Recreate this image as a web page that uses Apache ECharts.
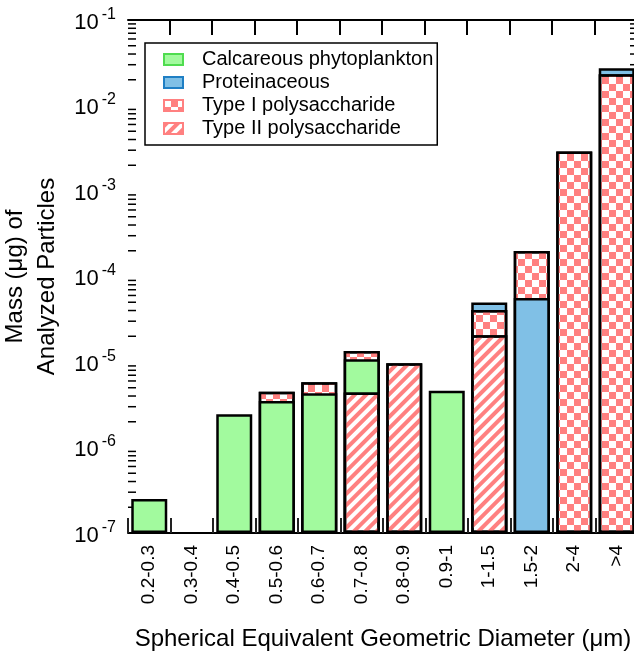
<!DOCTYPE html>
<html>
<head>
<meta charset="utf-8">
<script src="https://cdn.jsdelivr.net/npm/echarts@6/dist/echarts.min.js"></script>
<style>
  html, body { margin: 0; padding: 0; background: #fff; }
  #chart { width: 634px; height: 653px; }
</style>
</head>
<body>
<div id="chart"></div>
<script>
// size bins (um)
const categories = ['0.2-0.3', '0.3-0.4', '0.4-0.5', '0.5-0.6', '0.6-0.7', '0.7-0.8',
  '0.8-0.9', '0.9-1', '1-1.5', '1.5-2', '2-4', '>4'];

// mass (ug) of each particle class per bin
const calcareous    = [2.5e-7, 0, 2.45e-6, 3.5e-6, 4.3e-6, 6.4e-6, 0, 4.6e-6, 0, 0, 0, 0];
const proteinaceous = [0, 0, 0, 0, 0, 0, 0, 0, 9.0e-6, 5.6e-5, 0, 4.0e-3];
const typeI         = [0, 0, 0, 1.0e-6, 1.5e-6, 2.65e-6, 0, 0, 2.0e-5, 1.43e-4, 2.9e-3, 2.32e-2];
const typeII        = [0, 0, 0, 0, 0, 4.4e-6, 9.7e-6, 0, 2.05e-5, 0, 0, 0];

// stacking order bottom -> top; 1.5-2 has proteinaceous under type I
const defaultOrder = ['II', 'C', 'I', 'P'];
const proteinBelow = ['1.5-2'];

const FONT = 'Liberation Sans, Arial, sans-serif';
const PINK = '#ff8080';

const kinds = {
  C: {
    name: 'Calcareous phytoplankton', values: calcareous,
    style: { color: '#a2fa9e', borderColor: '#000', borderWidth: 2.5 },
    legendBorder: '#4fdc4f'
  },
  P: {
    name: 'Proteinaceous', values: proteinaceous,
    style: { color: '#80c0e6', borderColor: '#000', borderWidth: 2.5 },
    legendBorder: '#1f7fc4'
  },
  I: {
    name: 'Type I polysaccharide', values: typeI,
    style: {
      color: '#fff', borderColor: '#000', borderWidth: 2.5,
      decal: { symbol: 'rect', symbolSize: 1, color: PINK,
        dashArrayX: [[7, 7], [0, 7, 7, 0]], dashArrayY: [7, 0] }
    },
    legendBorder: PINK
  },
  II: {
    name: 'Type II polysaccharide', values: typeII,
    style: {
      color: '#fff', borderColor: '#000', borderWidth: 2.5,
      decal: { symbol: 'rect', symbolSize: 1, color: PINK,
        dashArrayX: [1, 0], dashArrayY: [3.4, 3.4], rotation: -Math.PI / 4 }
    },
    legendBorder: PINK
  }
};

// build layers of cumulative tops, bottom layer first
const layers = [[], [], []];
categories.forEach(function (cat, i) {
  const order = proteinBelow.indexOf(cat) >= 0 ? ['II', 'C', 'P', 'I'] : defaultOrder;
  let top = 0, k = 0;
  order.forEach(function (key) {
    const v = kinds[key].values[i];
    if (v > 0) {
      top += v;
      layers[k][i] = { value: top, itemStyle: kinds[key].style };
      k++;
    }
  });
  for (; k < 3; k++) layers[k][i] = '-';
});

// minor ticks of the log axis (2..9 per decade)
const minorTicks = [];
for (let e = -7; e < -1; e++) {
  for (let m = 2; m <= 9; m++) {
    minorTicks.push([0, m * Math.pow(10, e)]);
  }
}

const series = [];
// minor ticks on left/right frame, plus ticks on the top frame at category boundaries
series.push({
  type: 'custom',
  silent: true,
  data: minorTicks,
  renderItem: function (params, api) {
    const y = api.coord([0, api.value(1)])[1];
    const cs = params.coordSys;
    const children = [
      { type: 'line', shape: { x1: cs.x, y1: y, x2: cs.x + 8, y2: y }, style: { stroke: '#000', lineWidth: 1.5 } },
      { type: 'line', shape: { x1: cs.x + cs.width - 8, y1: y, x2: cs.x + cs.width, y2: y }, style: { stroke: '#000', lineWidth: 1.5 } }
    ];
    if (params.dataIndex === 0) {
      const band = cs.width / categories.length;
      for (let j = 1; j < categories.length; j++) {
        const x = Math.round(cs.x + j * band) - 1;
        children.push({
          type: 'line',
          shape: { x1: x, y1: cs.y, x2: x, y2: cs.y + 15 },
          style: { stroke: '#000', lineWidth: 2 }
        });
      }
    }
    return { type: 'group', children: children };
  }
});
for (let k = 2; k >= 0; k--) {
  series.push({
    type: 'bar',
    name: 'layer' + k,
    data: layers[k],
    barWidth: 36,
    barGap: '-100%',
    silent: true
  });
}
['C', 'P', 'I', 'II'].forEach(function (key) {
  series.push({
    type: 'bar',
    name: kinds[key].name,
    data: [],
    barWidth: 36,
    barGap: '-100%',
    itemStyle: kinds[key].style
  });
});

const myChart = echarts.init(document.getElementById('chart'));
const option = {
  animation: false,
  backgroundColor: '#fff',
  textStyle: { fontFamily: FONT },
  grid: { left: 128, right: -4, top: 20, bottom: 120, containLabel: false, outerBoundsMode: 'none' },
  legend: {
    orient: 'vertical',
    left: 145,
    top: 43,
    icon: 'rect',
    itemWidth: 19,
    itemHeight: 11,
    itemGap: 0,
    padding: [5, 4, 5, 18],
    borderColor: '#000',
    borderWidth: 1.5,
    backgroundColor: '#fff',
    selectedMode: false,
    textStyle: { fontSize: 20, lineHeight: 23, color: '#000', fontFamily: FONT, padding: [0, 0, 0, 14] },
    data: ['C', 'P', 'I', 'II'].map(function (key) {
      return { name: kinds[key].name, itemStyle: { borderColor: kinds[key].legendBorder, borderWidth: 2 } };
    })
  },
  xAxis: [{
    type: 'category',
    data: categories,
    position: 'bottom',
    name: 'Spherical Equivalent Geometric Diameter (\u03bcm)',
    nameLocation: 'middle',
    nameGap: 94,
    nameTextStyle: { fontSize: 24, color: '#000', fontFamily: FONT },
    axisLine: { onZero: false, lineStyle: { color: '#000', width: 2 } },
    axisTick: { show: true, interval: 0, inside: true, length: 15, lineStyle: { color: '#222', width: 2 } },
    axisLabel: { rotate: 90, interval: 0, fontSize: 19, color: '#000', margin: 12, fontFamily: FONT }
  }, {
    type: 'category',
    data: categories,
    position: 'top',
    axisLine: { show: true, onZero: false, lineStyle: { color: '#000', width: 2 } },
    axisTick: { show: false },
    axisLabel: { show: false }
  }],
  yAxis: [{
    type: 'log',
    logBase: 10,
    min: 1e-7,
    max: 1e-1,
    startValue: 1e-7,
    splitNumber: 6,
    name: 'Mass (\u03bcg) of\nAnalyzed Particles',
    nameLocation: 'middle',
    nameGap: 43,
    nameTextStyle: { fontSize: 24, lineHeight: 32, color: '#000', fontFamily: FONT },
    axisLine: { lineStyle: { color: '#000', width: 2 } },
    axisTick: { inside: true, length: 14, lineStyle: { color: '#000', width: 1.5 } },
    splitLine: { show: false },
    axisLabel: {
      margin: 12,
      formatter: function (v) {
        return '{b|10}{s|' + Math.round(Math.log10(v)) + '}';
      },
      rich: {
        b: { fontSize: 22, color: '#000', fontFamily: FONT, padding: [5, 0, 0, 0] },
        s: { fontSize: 16, color: '#000', fontFamily: FONT, verticalAlign: 'top', padding: [0, 0, 0, 3] }
      }
    }
  }, {
    type: 'log',
    logBase: 10,
    min: 1e-7,
    max: 1e-1,
    splitNumber: 6,
    position: 'right',
    axisLine: { show: true, onZero: false, lineStyle: { color: '#000', width: 2 } },
    axisTick: { inside: true, length: 14, lineStyle: { color: '#000', width: 1.5 } },
    splitLine: { show: false },
    axisLabel: { show: false }
  }],
  series: series
};
myChart.setOption(option);
window.addEventListener('resize', function () { myChart.resize(); });
</script>
</body>
</html>
